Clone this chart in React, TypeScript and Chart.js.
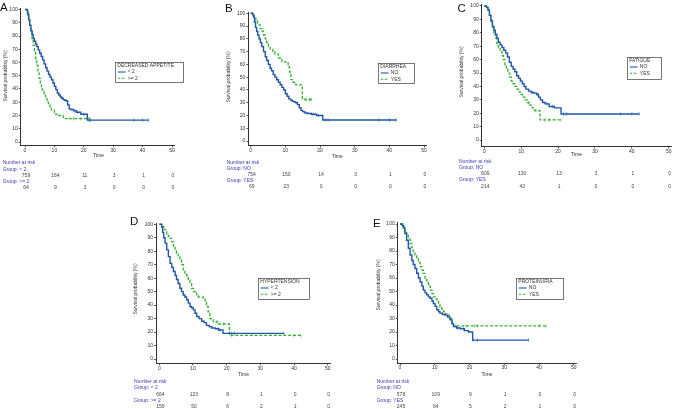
import React, { useEffect, useRef } from "react";
import { Chart, registerables } from "chart.js";

Chart.register(...registerables);

const FONT = '"Liberation Sans", Arial, Helvetica, sans-serif';
const BLUE = "#1f55a8";
const GREEN = "#36ad33";
const RISK_BLUE = "#3a3ab4";

// ---- shared tick labels ----
const timeTicks = [0, 10, 20, 30, 40, 50];
const survivalTicks = [0, 10, 20, 30, 40, 50, 60, 70, 80, 90, 100];

// ---- A: decreased appetite ----
const appetiteLowTime = [0, 0.7, 1.0, 1.3, 1.6, 2.0, 2.4, 2.8, 3.2, 3.6, 4.0, 4.5, 5.0, 5.5, 6.0, 6.5, 7.0, 7.5, 8.0, 8.5, 9.0, 9.5, 10.0, 10.5, 11.0, 11.5, 12.0, 12.5, 13.0, 13.5, 14.0, 14.5, 15.0, 15.5, 16.5, 17.5, 19.0, 21.2, 42];
const appetiteLowSurv = [100, 99, 96, 92, 88, 84, 81, 78, 76, 74, 72, 69.5, 67, 64.5, 62, 59, 56, 53.5, 51, 49, 47, 44.5, 42, 39.5, 37, 35.5, 34, 33, 32, 31.5, 31, 28, 25, 24.5, 23.5, 22.5, 21, 16.5, 16.5];
const appetiteLowCensor = [17, 18, 20, 21.8, 22.3, 37, 40, 42];
const appetiteHighTime = [0, 0.8, 1.2, 1.6, 2.0, 2.4, 2.8, 3.2, 3.6, 4.0, 4.4, 4.8, 5.2, 5.6, 6.0, 6.5, 7.0, 7.5, 8.0, 8.5, 9.0, 10.0, 11.0, 13.0, 22.0];
const appetiteHighSurv = [100, 97, 93, 88, 83, 78, 73, 68, 63, 58, 53, 48, 44, 40, 38, 36, 34, 30, 28, 26, 24, 21, 20, 17.6, 17.6];
const appetiteHighCensor = [15, 16.5, 19, 21.5, 22];
const appetiteRiskLow = [759, 164, 11, 3, 1, 0];
const appetiteRiskHigh = [64, 9, 3, 0, 0, 0];

// ---- B: diarrhea ----
const diarrheaNoTime = [0, 0.5, 0.8, 1.1, 1.4, 1.7, 2.0, 2.4, 2.8, 3.2, 3.7, 4.2, 4.6, 5.1, 5.6, 6.0, 6.5, 7.0, 7.5, 8.0, 8.5, 9.0, 9.5, 10.0, 10.5, 11.0, 11.5, 12.0, 12.5, 13.0, 13.5, 14.0, 14.5, 15.0, 15.5, 16.5, 17.5, 19.0, 20.8, 42];
const diarrheaNoSurv = [100, 99, 97, 93, 89, 86, 83, 80, 77, 74, 70, 66, 63, 60, 57, 55, 52, 50, 48, 46, 44, 42, 40, 37, 35, 33, 32, 31, 30.5, 30, 28.5, 26, 24, 23, 22, 21.5, 21, 20, 16.5, 16.5];
const diarrheaNoCensor = [16, 18, 19.5, 21.5, 22.3, 37, 40, 42];
const diarrheaYesTime = [0, 1.0, 1.5, 2.0, 2.7, 3.2, 3.7, 4.2, 4.6, 5.1, 5.6, 6.4, 7.0, 8.0, 9.0, 10.8, 11.2, 11.6, 12.2, 13.0, 14.9, 17.5];
const diarrheaYesSurv = [100, 97, 94, 91, 88, 86, 83, 80, 77, 74, 72, 70, 68, 65, 62, 58, 54, 48, 46, 44, 32.5, 32.5];
const diarrheaYesCensor = [16, 17, 17.5];
const diarrheaRiskNo = [754, 150, 14, 3, 1, 0];
const diarrheaRiskYes = [69, 23, 0, 0, 0, 0];

// ---- C: fatigue ----
const fatigueNoTime = [0, 0.6, 1.0, 1.4, 1.8, 2.2, 2.6, 3.0, 3.4, 3.8, 4.3, 4.8, 5.3, 5.8, 6.3, 6.8, 7.3, 7.8, 8.3, 8.8, 9.3, 9.8, 10.3, 10.8, 11.3, 12.0, 12.7, 13.5, 14.2, 14.7, 15.2, 15.8, 16.5, 17.6, 19.0, 20.8, 42];
const fatigueNoSurv = [100, 99, 97, 93, 89, 85, 82, 79, 76, 73, 71, 69, 67, 65, 62, 58, 55, 53, 51, 48, 46, 44, 42, 40, 38, 36.5, 35.5, 35, 34, 32, 30, 28, 27, 25, 24, 19.5, 19.5];
const fatigueNoCensor = [13, 14.5, 17, 18.5, 21.5, 22.3, 37, 40, 42];
const fatigueYesTime = [0, 0.6, 1.0, 1.4, 1.8, 2.2, 2.6, 3.0, 3.4, 3.8, 4.3, 4.8, 5.2, 5.6, 6.0, 6.4, 6.9, 7.3, 7.8, 8.3, 8.8, 9.3, 9.8, 10.4, 11.0, 11.7, 12.3, 13.0, 13.6, 15.1, 20.8];
const fatigueYesSurv = [100, 99, 97, 93, 88, 84, 80, 76, 72, 69, 66, 63, 60, 56, 53, 50, 47, 44, 42, 40, 38, 36, 34, 32, 30, 28, 26, 24, 22, 15, 15];
const fatigueYesCensor = [12, 14, 16.5, 17.5, 20.8];
const fatigueRiskNo = [609, 130, 13, 3, 1, 0];
const fatigueRiskYes = [214, 43, 1, 0, 0, 0];

// ---- D: hypertension ----
const hypertensionLowTime = [0, 0.7, 1.0, 1.3, 1.7, 2.2, 2.7, 3.2, 3.7, 4.2, 4.7, 5.1, 5.6, 6.1, 6.6, 7.1, 7.6, 8.1, 8.6, 9.1, 9.6, 10.1, 10.6, 11.1, 11.8, 12.6, 13.3, 14.0, 14.8, 15.6, 16.6, 17.6, 18.9, 37];
const hypertensionLowSurv = [100, 98, 94, 90, 86, 81, 76, 71, 68, 65, 62, 59, 56, 52.5, 50, 47.5, 46, 44, 41.5, 39, 38, 36.5, 34, 31.5, 30, 28, 27, 25, 24, 23, 22.5, 21.5, 19, 19];
const hypertensionLowCensor = [15, 17.5, 18, 21.5, 22.3, 37];
const hypertensionHighTime = [0, 1.0, 1.5, 2.2, 2.7, 3.2, 3.7, 4.2, 4.7, 5.1, 5.6, 6.1, 6.6, 7.1, 7.6, 8.1, 8.6, 9.1, 9.6, 10.1, 10.6, 11.1, 11.6, 13.1, 13.6, 14.0, 14.5, 15.0, 16.0, 17.5, 20.8, 42];
const hypertensionHighSurv = [100, 98, 96, 93, 91, 89.5, 87, 83.5, 81, 78.5, 76, 73.5, 70, 66, 63, 62, 58.5, 56, 52.5, 50, 49, 47, 46, 45, 42, 39, 35, 30, 27.5, 26, 17.5, 17.5];
const hypertensionHighCensor = [17, 19, 21.5, 40, 42];
const hypertensionRiskLow = [664, 123, 8, 1, 0, 0];
const hypertensionRiskHigh = [159, 50, 6, 2, 1, 0];

// ---- E: proteinuria ----
const proteinuriaNoTime = [0, 0.6, 1.0, 1.4, 1.9, 2.4, 2.9, 3.4, 3.8, 4.3, 4.8, 5.3, 5.8, 6.3, 6.7, 7.2, 7.7, 8.2, 8.7, 9.2, 9.6, 10.1, 10.6, 11.1, 11.5, 12.2, 13.0, 13.7, 14.4, 15.0, 15.4, 16.3, 17.3, 18.5, 19.7, 20.9, 37];
const proteinuriaNoSurv = [100, 99, 97, 93, 88, 82, 77, 73, 70, 67, 63.5, 60, 57, 54, 51, 49, 47.5, 46, 45, 43, 41, 39, 36.5, 35, 34, 33, 32.5, 31, 29, 26, 24, 23, 22.5, 21, 20, 14, 14];
const proteinuriaNoCensor = [16.5, 17.5, 18.2, 21, 22.3, 37];
const proteinuriaYesTime = [0, 0.8, 1.3, 1.9, 2.4, 2.9, 3.4, 3.8, 4.3, 4.8, 5.3, 5.8, 6.3, 6.7, 7.2, 7.7, 8.2, 8.7, 9.2, 9.6, 10.1, 10.6, 11.1, 11.5, 12.0, 12.5, 13.0, 13.5, 14.2, 14.9, 15.4, 42];
const proteinuriaYesSurv = [100, 98, 95, 92, 89, 85.5, 82.5, 79.5, 77, 74.5, 71.5, 68.5, 66, 63.5, 60, 56.5, 54, 51, 48.5, 46, 44.5, 42.5, 40.5, 38.5, 37, 35, 33.5, 32.5, 30, 26.5, 24.5, 24.5];
const proteinuriaYesCensor = [16, 19, 21.5, 22.3, 40, 42];
const proteinuriaRiskNo = [578, 109, 9, 1, 0, 0];
const proteinuriaRiskYes = [245, 64, 5, 2, 1, 0];

type Geom = {
  left: number; top: number; w: number; h: number;
  axisX: number; x0: number; x50: number; y100: number; y0: number; axisY: number;
  letterX: number; letterY: number; titleX: number; titleY: number; timeY: number;
  legX: number; legY: number; legW: number; legH: number;
  riskX: number; riskYs: number[];
};

type PanelDef = {
  letter: string; legendTitle: string; groups: [string, string];
  t1: number[]; s1: number[]; c1: number[];
  t2: number[]; s2: number[]; c2: number[];
  r1: number[]; r2: number[];
  g: Geom;
};

const panels: PanelDef[] = [
  {
    letter: "A", legendTitle: "DECREASED APPETITE", groups: ["< 2", ">= 2"],
    t1: appetiteLowTime, s1: appetiteLowSurv, c1: appetiteLowCensor,
    t2: appetiteHighTime, s2: appetiteHighSurv, c2: appetiteHighCensor,
    r1: appetiteRiskLow, r2: appetiteRiskHigh,
    g: { left: 0, top: 0, w: 218, h: 195, axisX: 20.7, x0: 25, x50: 172, y100: 9.5, y0: 142, axisY: 145.3,
      letterX: 0, letterY: 10.5, titleX: 5.5, titleY: 76, timeY: 155.5,
      legX: 115, legY: 62, legW: 68, legH: 20, riskX: 2.7, riskYs: [163, 169.5, 176, 182, 188] },
  },
  {
    letter: "B", legendTitle: "DIARRHEA", groups: ["NO", "YES"],
    t1: diarrheaNoTime, s1: diarrheaNoSurv, c1: diarrheaNoCensor,
    t2: diarrheaYesTime, s2: diarrheaYesSurv, c2: diarrheaYesCensor,
    r1: diarrheaRiskNo, r2: diarrheaRiskYes,
    g: { left: 220, top: 0, w: 215, h: 195, axisX: 248.3, x0: 250.7, x50: 424, y100: 13.3, y0: 141, axisY: 145.5,
      letterX: 225, letterY: 12, titleX: 228.5, titleY: 77, timeY: 156.5,
      legX: 378, legY: 63, legW: 36, legH: 20, riskX: 226.7, riskYs: [162.7, 169, 175, 181, 187] },
  },
  {
    letter: "C", legendTitle: "FATIGUE", groups: ["NO", "YES"],
    t1: fatigueNoTime, s1: fatigueNoSurv, c1: fatigueNoCensor,
    t2: fatigueYesTime, s2: fatigueYesSurv, c2: fatigueYesCensor,
    r1: fatigueRiskNo, r2: fatigueRiskYes,
    g: { left: 443, top: 0, w: 233, h: 195, axisX: 481.7, x0: 484.3, x50: 670.7, y100: 4.3, y0: 140, axisY: 146.5,
      letterX: 457.5, letterY: 12, titleX: 461.5, titleY: 72, timeY: 155,
      legX: 627, legY: 57, legW: 34, legH: 22, riskX: 459, riskYs: [161.7, 168, 174, 180, 186.5] },
  },
  {
    letter: "D", legendTitle: "HYPERTENSION", groups: ["< 2", ">= 2"],
    t1: hypertensionLowTime, s1: hypertensionLowSurv, c1: hypertensionLowCensor,
    t2: hypertensionHighTime, s2: hypertensionHighSurv, c2: hypertensionHighCensor,
    r1: hypertensionRiskLow, r2: hypertensionRiskHigh,
    g: { left: 126, top: 205, w: 210, h: 204, axisX: 156, x0: 159.3, x50: 327.7, y100: 224.3, y0: 359, axisY: 363.3,
      letterX: 130, letterY: 225, titleX: 135.5, titleY: 289, timeY: 374.3,
      legX: 258, legY: 278, legW: 51, legH: 21, riskX: 134, riskYs: [381.7, 388, 394.5, 400.5, 406.5] },
  },
  {
    letter: "E", legendTitle: "PROTEINURIA", groups: ["NO", "YES"],
    t1: proteinuriaNoTime, s1: proteinuriaNoSurv, c1: proteinuriaNoCensor,
    t2: proteinuriaYesTime, s2: proteinuriaYesSurv, c2: proteinuriaYesCensor,
    r1: proteinuriaRiskNo, r2: proteinuriaRiskYes,
    g: { left: 370, top: 205, w: 215, h: 204, axisX: 397.7, x0: 400, x50: 573.75, y100: 224, y0: 359, axisY: 363,
      letterX: 373, letterY: 227, titleX: 378.5, titleY: 285, timeY: 374.3,
      legX: 516, legY: 278, legW: 47, legH: 21, riskX: 376.7, riskYs: [381.7, 388, 394.5, 400.5, 406.5] },
  },
];

function survAt(times: number[], surv: number[], t: number): number {
  let s = surv[0];
  for (let i = 0; i < times.length; i++) {
    if (times[i] <= t) s = surv[i];
  }
  return s;
}

function KMPanel({ p }: { p: PanelDef }) {
  const ref = useRef<HTMLCanvasElement>(null);
  const g = p.g;
  useEffect(() => {
    if (!ref.current) return;
    const u = (g.x50 - g.x0) / 50;
    const v = (g.y0 - g.y100) / 100;
    const xmin = -(g.x0 - g.axisX) / u;
    const xmax = 50 + 2.5 / u;
    const ymin = -(g.axisY - g.y0) / v;
    const ymax = 100 + 1.2 / v;
    const yW = g.axisX - g.left;
    const xH = 12;
    const padTop = g.y100 - 1.2 - g.top;
    const padRight = g.left + g.w - (g.x50 + 2.5);
    const padBottom = g.top + g.h - g.axisY - xH;

    const L = g.left, T = g.top;
    const overlay = {
      id: "overlay" + p.letter,
      afterDraw(chart: any) {
        const ctx = chart.ctx as CanvasRenderingContext2D;
        const xs = chart.scales.x;
        ctx.save();
        // panel letter
        ctx.fillStyle = "#111";
        ctx.font = `11.5px ${FONT}`;
        ctx.textAlign = "left";
        ctx.textBaseline = "alphabetic";
        ctx.fillText(p.letter, g.letterX - L, g.letterY - T);
        // y title
        ctx.save();
        ctx.translate(g.titleX - L, g.titleY - T);
        ctx.rotate(-Math.PI / 2);
        ctx.font = `5px ${FONT}`;
        ctx.fillStyle = "#333";
        ctx.textAlign = "center";
        ctx.textBaseline = "middle";
        ctx.fillText("Survival probability (%)", 0, 0);
        ctx.restore();
        // x title
        ctx.font = `5px ${FONT}`;
        ctx.fillStyle = "#333";
        ctx.textAlign = "center";
        ctx.textBaseline = "middle";
        ctx.fillText("Time", (xs.getPixelForValue(0) + xs.getPixelForValue(50)) / 2, g.timeY - T);
        // legend box
        const lx = g.legX - L, ly = g.legY - T;
        ctx.fillStyle = "#fff";
        ctx.fillRect(lx, ly, g.legW, g.legH);
        ctx.strokeStyle = "#555";
        ctx.lineWidth = 0.8;
        ctx.strokeRect(lx + 0.5, ly + 0.5, g.legW, g.legH);
        ctx.fillStyle = "#333";
        ctx.textAlign = "left";
        ctx.textBaseline = "middle";
        ctx.fillText(p.legendTitle, lx + 2.3, ly + 4);
        const rowY = [ly + 10, ly + 16.3];
        const cols = [BLUE, GREEN];
        for (let i = 0; i < 2; i++) {
          ctx.beginPath();
          ctx.strokeStyle = cols[i];
          ctx.lineWidth = 1.1;
          ctx.setLineDash(i === 1 ? [2.5, 1.5] : []);
          ctx.moveTo(lx + 2.8, rowY[i]);
          ctx.lineTo(lx + 10.5, rowY[i]);
          ctx.stroke();
          ctx.setLineDash([]);
          ctx.fillStyle = "#333";
          ctx.fillText(p.groups[i], lx + 12.8, rowY[i]);
        }
        // number at risk table
        const rx = g.riskX - L;
        const ry = g.riskYs.map((y) => y - T);
        ctx.textAlign = "left";
        ctx.fillStyle = RISK_BLUE;
        ctx.fillText("Number at risk", rx, ry[0]);
        ctx.fillText("Group: " + p.groups[0], rx, ry[1]);
        ctx.fillText("Group: " + p.groups[1], rx, ry[3]);
        ctx.fillStyle = "#444";
        ctx.textAlign = "center";
        timeTicks.forEach((t, i) => {
          const px = xs.getPixelForValue(t) + 1;
          ctx.fillText(String(p.r1[i]), px, ry[2]);
          ctx.fillText(String(p.r2[i]), px, ry[4]);
        });
        ctx.restore();
      },
    };

    const line1 = p.t1.map((t, i) => ({ x: t, y: p.s1[i] }));
    const line2 = p.t2.map((t, i) => ({ x: t, y: p.s2[i] }));
    const cens1 = p.c1.map((t) => ({ x: t, y: survAt(p.t1, p.s1, t) }));
    const cens2 = p.c2.map((t) => ({ x: t, y: survAt(p.t2, p.s2, t) }));

    const tickFont = { size: 5, family: FONT };
    const chart = new Chart(ref.current, {
      type: "line",
      data: {
        datasets: [
          { data: line1, borderColor: BLUE, borderWidth: 1.4, stepped: true, pointRadius: 0, fill: false },
          { data: line2, borderColor: GREEN, borderWidth: 1.3, borderDash: [3, 1.8], stepped: true, pointRadius: 0, fill: false },
          { data: cens1, showLine: false, pointStyle: "line", rotation: 90, pointRadius: 1.8, borderColor: "#5a8fd2", borderWidth: 0.8 },
          { data: cens2, showLine: false, pointStyle: "line", rotation: 90, pointRadius: 1.8, borderColor: "#6cc46a", borderWidth: 0.8 },
        ] as any,
      },
      options: {
        animation: false,
        responsive: false,
        events: [],
        layout: { padding: { left: 0, top: padTop, right: padRight, bottom: padBottom } },
        plugins: { legend: { display: false }, tooltip: { enabled: false }, title: { display: false } },
        scales: {
          x: {
            type: "linear",
            min: xmin,
            max: xmax,
            afterBuildTicks: (s: any) => { s.ticks = timeTicks.map((v) => ({ value: v })); },
            afterFit: (s: any) => { s.height = xH; },
            ticks: { font: tickFont, color: "#333", padding: 0, maxRotation: 0, autoSkip: false },
            grid: { display: true, drawOnChartArea: false, drawTicks: true, tickLength: 2, color: "#333", lineWidth: 0.8 },
            border: { display: true, color: "#333", width: 1 },
          },
          y: {
            type: "linear",
            min: ymin,
            max: ymax,
            afterBuildTicks: (s: any) => { s.ticks = survivalTicks.map((v) => ({ value: v })); },
            afterFit: (s: any) => { s.width = yW; },
            ticks: { font: tickFont, color: "#333", padding: 1, autoSkip: false },
            grid: { display: true, drawOnChartArea: false, drawTicks: true, tickLength: 2, color: "#333", lineWidth: 0.8 },
            border: { display: true, color: "#333", width: 1 },
          },
        },
      } as any,
      plugins: [overlay],
    });
    return () => chart.destroy();
  }, []);
  return (
    <canvas
      ref={ref}
      width={g.w}
      height={g.h}
      style={{ position: "absolute", left: g.left, top: g.top, width: g.w, height: g.h }}
    />
  );
}

export default function App() {
  return (
    <div style={{ position: "absolute", left: 0, top: 0, width: 676, height: 409, background: "#fff", overflow: "hidden" }}>
      {panels.map((p) => (
        <KMPanel key={p.letter} p={p} />
      ))}
    </div>
  );
}
